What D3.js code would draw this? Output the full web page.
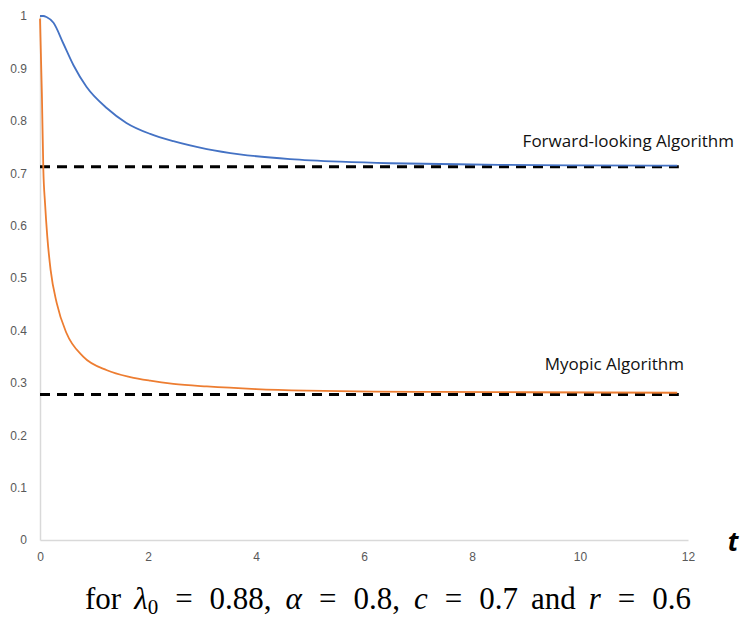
<!DOCTYPE html>
<html lang="en">
<head>
<meta charset="UTF-8">
<title>Forward-looking vs Myopic</title>
<script src="https://cdnjs.cloudflare.com/ajax/libs/d3/7.8.5/d3.min.js"></script>
<style>
  body { margin: 0; background: #fff; }
  .tick text { fill: #595959; font: 12px "Liberation Sans", sans-serif; }
  .label { font: 17px "Open Sans", sans-serif; fill: #111; }
</style>
</head>
<body>
<div id="chart"></div>
<script>
// values
const xTicks = [0, 2, 4, 6, 8, 10, 12];
const yTicks = [0, 0.1, 0.2, 0.3, 0.4, 0.5, 0.6, 0.7, 0.8, 0.9, 1];

const forwardT = [0, 0.06, 0.12, 0.25, 0.43, 0.62, 0.86, 1.24, 1.6, 2.04, 2.47, 3.09, 3.7, 4.63, 5.56, 6.48, 7.4, 8.5, 10, 11.8];
const forwardV = [1, 1, 0.998, 0.987, 0.948, 0.906, 0.865, 0.824, 0.796, 0.775, 0.761, 0.746, 0.736, 0.727, 0.722, 0.719, 0.7176, 0.716, 0.715, 0.7145];

const myopicT = [0, 0.035, 0.062, 0.093, 0.135, 0.197, 0.31, 0.49, 0.8, 1.24, 1.67, 2.04, 2.47, 3.09, 4.0, 4.94, 6.17, 7.4, 9, 11.8];
const myopicV = [0.995, 0.85, 0.706, 0.643, 0.579, 0.515, 0.452, 0.395, 0.350, 0.324, 0.311, 0.304, 0.298, 0.293, 0.288, 0.285, 0.283, 0.2825, 0.282, 0.281];

const limits = [0.7125, 0.2775];
const limitEnd = 11.83;
const labels = ["Forward-looking Algorithm", "Myopic Algorithm"];

// caption pieces: text, italic?, extra space before
const caption = [
  ["for", false, 0], ["λ", true, 13], ["0", false, 0, "sub"],
  ["=", false, 17], ["0.88,", false, 17],
  ["α", true, 14], ["=", false, 17], ["0.8,", false, 17],
  ["c", true, 14], ["=", false, 17], ["0.7", false, 17],
  ["and", false, 13], ["r", true, 13], ["=", false, 17], ["0.6", false, 17]
];

const W = 740, H = 619;
const svg = d3.select("#chart").append("svg").attr("width", W).attr("height", H);

const x = d3.scaleLinear().domain([0, 12]).range([40, 688]);
const y = d3.scaleLinear().domain([0, 1]).range([540, 16]);

// axes
const gx = svg.append("g").attr("transform", "translate(0,540)")
  .call(d3.axisBottom(x).tickValues(xTicks).tickSize(0).tickPadding(12).tickFormat(d3.format("d")));
const gy = svg.append("g").attr("transform", "translate(40,0)")
  .call(d3.axisLeft(y).tickValues(yTicks).tickSize(0).tickPadding(13).tickFormat(d => d === 0 || d === 1 ? d : d3.format(".1f")(d)));
[gx, gy].forEach(g => g.select(".domain").attr("stroke", "#d9d9d9").attr("stroke-width", 1.5));

// dashed limits
svg.selectAll(".limit").data(limits).enter().append("line")
  .attr("class", "limit")
  .attr("x1", x(0)).attr("x2", x(limitEnd))
  .attr("y1", d => y(d)).attr("y2", d => y(d))
  .attr("stroke", "#000").attr("stroke-width", 3)
  .attr("stroke-dasharray", "10,7");

const line = d3.line().x(d => x(d[0])).y(d => y(d[1])).curve(d3.curveMonotoneX);

svg.append("path")
  .datum(d3.zip(forwardT, forwardV))
  .attr("d", line).attr("fill", "none")
  .attr("stroke", "#4472C4").attr("stroke-width", 1.8);

svg.append("path")
  .datum(d3.zip(myopicT, myopicV))
  .attr("d", line).attr("fill", "none")
  .attr("stroke", "#ED7D31").attr("stroke-width", 1.8);

// curve labels
svg.append("text").attr("class", "label").attr("x", 734).attr("y", 147)
  .attr("text-anchor", "end").text(labels[0]);
svg.append("text").attr("class", "label").attr("x", 684).attr("y", 370)
  .attr("text-anchor", "end").text(labels[1]);

// axis title
svg.append("text").attr("x", 733).attr("y", 551).attr("text-anchor", "middle")
  .style("font", "italic bold 26px 'Open Sans', sans-serif").text("t");

// caption
const cap = svg.append("text").attr("x", 388).attr("y", 609)
  .attr("text-anchor", "middle")
  .style("font", "31px 'Liberation Serif', serif").attr("fill", "#000");
let sub = false;
caption.forEach(([s, it, dx, kind]) => {
  const ts = cap.append("tspan").attr("dx", dx).text(s);
  if (it) ts.attr("font-style", "italic");
  if (kind === "sub") { ts.attr("font-size", 21).attr("dy", 5); sub = true; }
  else if (sub) { ts.attr("dy", -5); sub = false; }
});
</script>
</body>
</html>
